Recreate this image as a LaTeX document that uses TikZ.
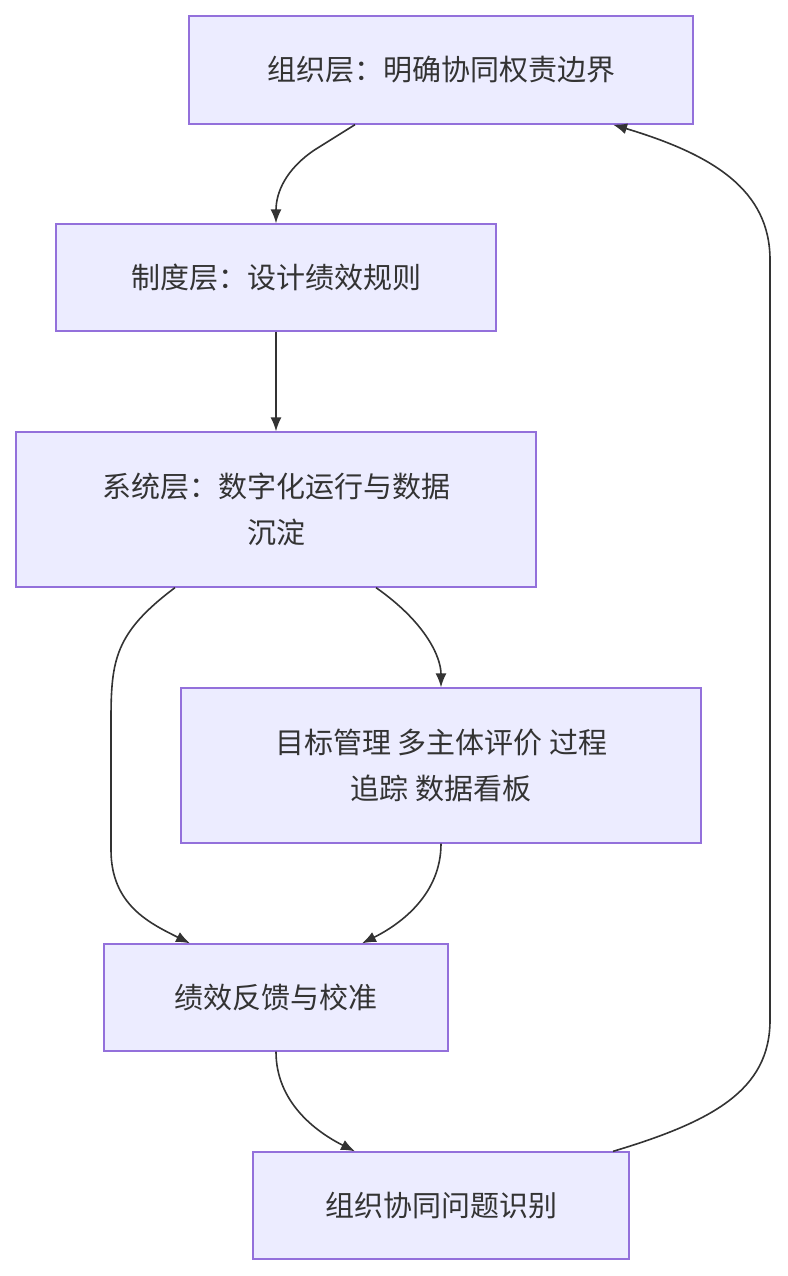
\documentclass[tikz,border=0pt]{standalone}
\usepackage{fontspec}
\setmainfont{Noto Sans CJK SC}
\usetikzlibrary{arrows.meta}
\definecolor{boxfill}{HTML}{ECECFF}
\definecolor{boxline}{HTML}{9370DB}
\definecolor{edge}{HTML}{333333}
\tikzset{
  box/.style={rectangle,draw=boxline,fill=boxfill,line width=1.3pt,align=center,
    inner sep=0pt,text=edge,font=\fontsize{29}{46}\selectfont},
  flow/.style={-{Latex[length=14pt,width=11pt]},draw=edge,line width=1.6pt}
}
\begin{document}
\begin{tikzpicture}[x=1pt,y=-1pt]
\useasboundingbox (0,0) rectangle (787,1276);
\node[box,minimum width=504pt,minimum height=108pt] (org) at (441,70) {组织层：明确协同权责边界};
\node[box,minimum width=440pt,minimum height=107pt] (rule) at (276,277.5) {制度层：设计绩效规则};
\node[box,minimum width=520pt,minimum height=155pt] (sys) at (276,509.5) {系统层：数字化运行与数据\\沉淀};
\node[box,minimum width=520pt,minimum height=155pt] (tool) at (441,765.5) {目标管理 多主体评价 过程\\追踪 数据看板};
\node[box,minimum width=344pt,minimum height=107pt] (fb) at (276,997.5) {绩效反馈与校准};
\node[box,minimum width=376pt,minimum height=107pt] (issue) at (441,1205.5) {组织协同问题识别};
% connectors
\draw[flow] ([xshift=-86pt]org.south) .. controls ++(0,-0) and ++(0,-0) .. ++(-40,25) .. controls ++(-30,20) and ++(0,-30) .. (rule.north);
\draw[flow] (rule.south) -- (sys.north);
\draw[flow] ([xshift=-101pt]sys.south) .. controls ++(-60,45) and ++(0,-60) .. (111,720) -- (111,850) .. controls ++(0,55) and ++(-40,-20) .. ([xshift=-86pt]fb.north);
\draw[flow] ([xshift=100pt]sys.south) .. controls ++(50,35) and ++(0,-30) .. (tool.north);
\draw[flow] (tool.south) .. controls ++(0,50) and ++(40,-20) .. ([xshift=86pt]fb.north);
\draw[flow] (fb.south) .. controls ++(0,50) and ++(-40,-20) .. ([xshift=-86pt]issue.north);
\draw[flow] ([xshift=172pt]issue.north) .. controls ++(100,-30) and ++(0,70) .. (770,1020) -- (770,260) .. controls ++(0,-70) and ++(100,30) .. ([xshift=172pt]org.south);
\end{tikzpicture}
\end{document}
